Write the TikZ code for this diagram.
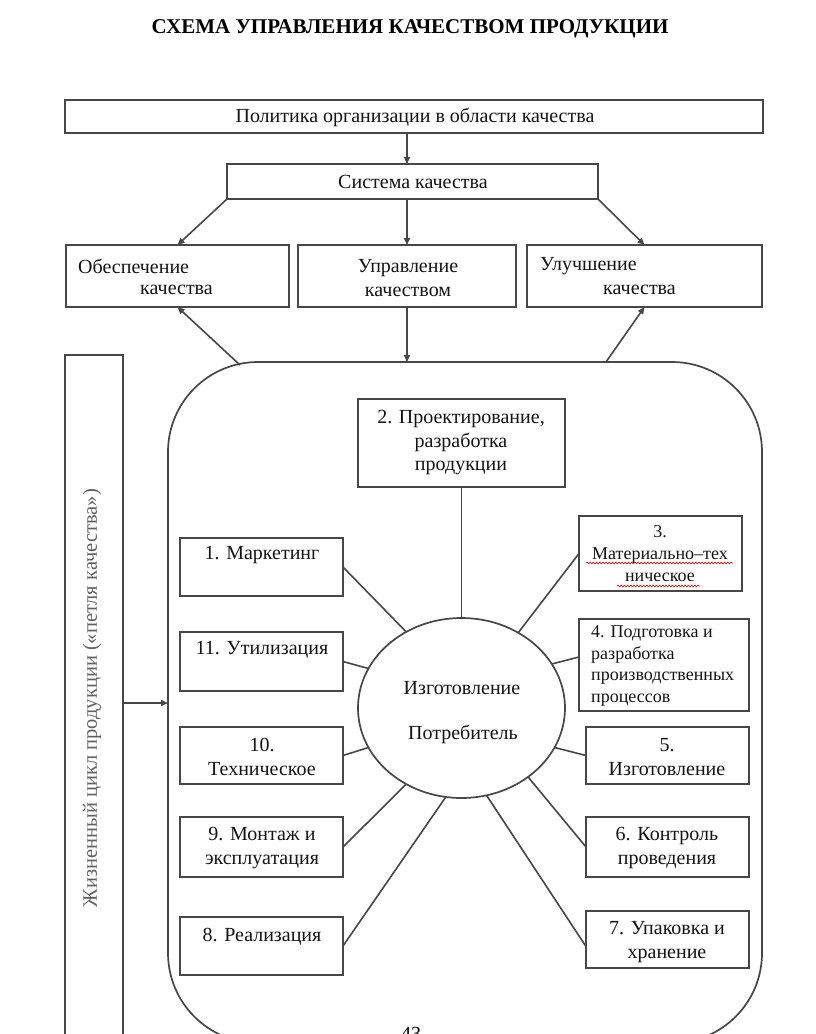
\documentclass[tikz,border=0pt]{standalone}
\usepackage{fontspec}
\setmainfont{Liberation Serif}
\usetikzlibrary{arrows.meta,shapes.geometric,decorations.pathmorphing}
\begin{document}
\begin{tikzpicture}[x=1pt,y=-1pt,
  bx/.style={draw=black!72, line width=1.7pt, inner sep=0pt, outer sep=0pt},
  ln/.style={draw=black!72, line width=1.6pt},
  arr/.style={ln, -{Triangle[length=7pt,width=6pt]}},
  lbl/.style={inner sep=0pt, align=center, font=\fontsize{20}{24}\selectfont, text=black!92},
  sml/.style={inner sep=0pt, font=\fontsize{18}{21.5}\selectfont, text=black!92},
  wavy/.style={draw=red!85!black, line width=0.6pt, decorate, decoration={snake, amplitude=0.9pt, segment length=3.2pt}}
]
\useasboundingbox (0,0) rectangle (816,1034);
\fill[white] (0,0) rectangle (816,1034);

% title
\node[inner sep=0pt, font=\fontsize{21}{26}\selectfont\bfseries] (title) at (410,29) {СХЕМА УПРАВЛЕНИЯ КАЧЕСТВОМ ПРОДУКЦИИ};

% top boxes
\node[bx, minimum width=698pt, minimum height=33pt] (pol) at (414,116.5) {};
\node[lbl] (tpol) at (415,117) {Политика организации в области качества};
\node[bx, minimum width=371pt, minimum height=35pt] (sys) at (412.5,181.5) {};
\node[lbl] (tsys) at (413,182) {Система качества};

\node[bx, minimum width=223pt, minimum height=62pt] (obs) at (177.5,276) {};
\node[lbl, anchor=west] (tobs1) at (78,266) {Обеспечение};
\node[lbl, anchor=west] (tobs2) at (140,290) {качества};
\node[bx, minimum width=218pt, minimum height=62pt] (upr) at (407,276) {};
\node[lbl] (tupr) at (408,278) {Управление\\качеством};
\node[bx, minimum width=235pt, minimum height=62pt] (ulu) at (644.5,276) {};
\node[lbl, anchor=west] (tulu1) at (540,266) {Улучшение};
\node[lbl, anchor=west] (tulu2) at (603,290) {качества};

% life cycle box
\node[bx, minimum width=58pt, minimum height=690pt] (life) at (94,700) {};
\node[inner sep=0pt, rotate=90, font=\fontsize{20.5}{24}\selectfont, text=black!62] (tlife) at (92,698) {Жизненный цикл продукции («петля качества»)};

% big rounded box
\node[bx, rounded corners=90pt, minimum width=594pt, minimum height=681pt] (big) at (465,702.5) {};

% centre
\node[bx, ellipse, minimum width=207pt, minimum height=180pt] (c) at (461.5,708) {};
\node[lbl] (tc1) at (462,688) {Изготовление};
\node[lbl] (tc2) at (463,734) {Потребитель};

% inner boxes
\node[bx, minimum width=207pt, minimum height=88pt] (b2) at (461.5,443) {};
\node[lbl, font=\fontsize{20}{23.5}\selectfont] (t2) at (461,443) {2. Проектирование,\\разработка\\продукции};
\node[bx, minimum width=163pt, minimum height=75pt] (b3) at (660.5,553.5) {};
\node[sml, align=center, font=\fontsize{18}{22}\selectfont] (t3) at (660,554) {3.\\Материально–тех\\ническое};
\node[bx, minimum width=170pt, minimum height=92pt] (b4) at (664,665) {};
\node[sml, align=left, anchor=west] (t4) at (591,666) {4. Подготовка и\\разработка\\производственных\\процессов};
\node[bx, minimum width=163pt, minimum height=57pt] (b5) at (667.5,755.5) {};
\node[lbl] (t5) at (667,757) {5.\\Изготовление};
\node[bx, minimum width=163pt, minimum height=60pt] (b6) at (667.5,847) {};
\node[lbl] (t6) at (667,848) {6. Контроль\\проведения};
\node[bx, minimum width=163pt, minimum height=57pt] (b7) at (667.5,939.5) {};
\node[lbl] (t7) at (667,942) {7. Упаковка и\\хранение};

\node[bx, minimum width=163pt, minimum height=58pt] (b1) at (261.5,567) {};
\node[lbl] (t1) at (262,555) {1. Маркетинг};
\node[bx, minimum width=163pt, minimum height=59pt] (b11) at (261.5,661.5) {};
\node[lbl] (t11) at (262,650) {11. Утилизация};
\node[bx, minimum width=163pt, minimum height=57pt] (b10) at (261.5,755.5) {};
\node[lbl] (t10) at (262,757) {10.\\Техническое};
\node[bx, minimum width=163pt, minimum height=60pt] (b9) at (261.5,847) {};
\node[lbl] (t9) at (262,848) {9. Монтаж и\\эксплуатация};
\node[bx, minimum width=163pt, minimum height=58pt] (b8) at (261.5,946) {};
\node[lbl] (t8) at (262,937) {8. Реализация};

% spell-check underlines
\draw[wavy] (586,563) -- (733,563);
\draw[wavy] (617,586) -- (700,586);

% page number (cut by the page edge, as in the reference)
\node[inner sep=0pt, anchor=base, font=\fontsize{20}{24}\selectfont] (pg) at (411,1040) {43};

% arrows top
\draw[arr] (pol.south -| upr.north) -- (sys.north -| upr.north);
\draw[arr] (sys.south west) -- (obs.north);
\draw[arr] (sys.south -| upr.north) -- (upr.north);
\draw[arr] (sys.south east) -- (ulu.north);
\draw[arr] (upr.south) -- (upr.south |- big.north);
\coordinate (bl) at (240,365);
\coordinate (br) at (606,362);
\draw[arr] (bl) -- (obs.south);
\draw[arr] (br) -- (ulu.south);
\coordinate (ly) at (0,703);
\draw[arr] (life.east |- ly) -- (big.west |- ly);

% spokes
\draw[ln] (b2.south) -- (c.90);
\draw[ln] (b1.east) -- (c.126);
\draw[ln] (b11.east) -- (c.157);
\draw[ln] (b3.west) -- (c.53);
\draw[ln] ([yshift=8pt]b4.west) -- (c.26);
\draw[ln] (b10.east) -- (c.203);
\draw[ln] (b5.west) -- (c.-23);
\draw[ln] (b9.east) -- (c.234);
\draw[ln] (b6.west) -- (c.-46);
\draw[ln] (b8.east) -- (c.260);
\draw[ln] ([yshift=-7pt]b7.west) -- (c.-74);
\end{tikzpicture}
\end{document}
